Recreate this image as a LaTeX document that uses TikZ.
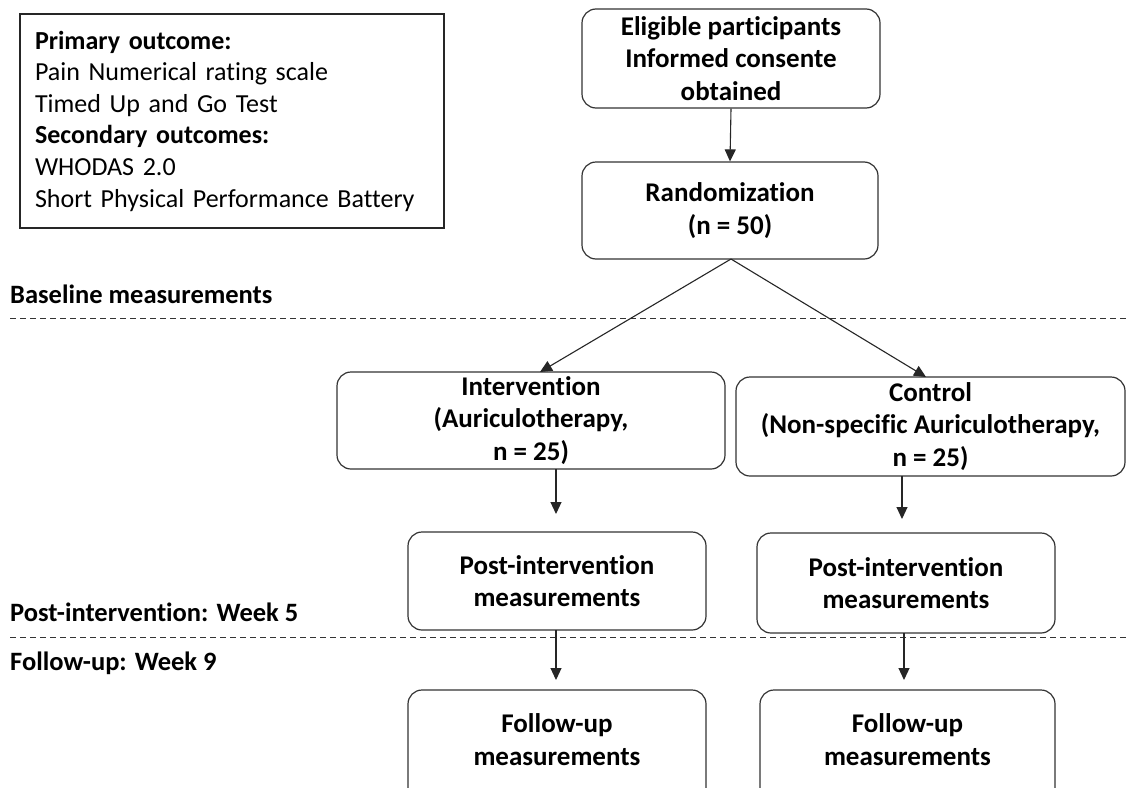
\documentclass[tikz,border=0pt]{standalone}
\usepackage{fontspec}
\setmainfont{Carlito}[Ligatures={NoCommon}]
\usetikzlibrary{arrows.meta}
\begin{document}
\begin{tikzpicture}[x=1pt,y=-1pt,
  every node/.style={font=\fontsize{26}{31.6}\selectfont, text=black},
  rbox/.style={draw=black!80, line width=1.2pt, rounded corners=14pt, align=center, font=\fontsize{27}{32.5}\selectfont\bfseries, inner sep=0pt},
  arr/.style={draw=black!85, line width=1.1pt, -{Triangle[width=11pt,length=12pt]}},
  phase/.style={anchor=west, font=\fontsize{26.5}{30}\selectfont\bfseries, inner sep=0pt},
  sep/.style={draw=black!80, line width=1pt, dash pattern=on 6pt off 4pt}]
\clip (0,0) rectangle (1126,787);
\fill[white] (0,0) rectangle (1126,787);

% outcome box
\node[draw=black!85, line width=1.2pt, minimum width=424pt, minimum height=214pt, text width=394pt, align=left, inner sep=15pt] (outc) at (232,121)
 {\textbf{Primary outcome:}\\ Pain Numerical rating scale\\ Timed Up and Go Test\\ \textbf{Secondary outcomes:}\\ WHODAS 2.0\\ Short Physical Performance Battery};

% main boxes
\node[rbox, minimum width=298pt, minimum height=99pt] (elig) at (731,58.5) {Eligible participants\\ Informed consente\\ obtained};
\node[rbox, minimum width=296pt, minimum height=97pt] (rand) at (730,210.5) {Randomization\\ (n = 50)};
\node[rbox, minimum width=388pt, minimum height=97pt] (intv) at (531,420.5) {Intervention\\ (Auriculotherapy,\\ n = 25)};
\node[rbox, minimum width=389pt, minimum height=99pt] (ctrl) at (930.5,426.5) {Control\\ (Non-specific Auriculotherapy,\\ n = 25)};
\node[rbox, minimum width=298pt, minimum height=98pt] (posti) at (557,581) {Post-intervention\\ measurements};
\node[rbox, minimum width=298pt, minimum height=100pt] (postc) at (906,583) {Post-intervention\\ measurements};
\node[rbox, minimum width=298pt, minimum height=134pt] (foli) at (557,757) {};
\node[rbox, minimum width=295pt, minimum height=134pt] (folc) at (907.5,757) {};
\node[font=\fontsize{27}{32.5}\selectfont\bfseries, align=center, inner sep=0pt] (folit) at (557,739.5) {Follow-up\\ measurements};
\node[font=\fontsize{27}{32.5}\selectfont\bfseries, align=center, inner sep=0pt] (folct) at (907.5,739.5) {Follow-up\\ measurements};

% phase labels and separators
\node[phase] (base) at (10,294) {Baseline measurements};
\node[phase] (wk5) at (10,612) {Post-intervention: Week 5};
\node[phase] (wk9) at (10,663) {Follow-up: Week 9};
\coordinate (s1a) at (10,318); \coordinate (s1b) at (1126,318);
\coordinate (s2a) at (10,637); \coordinate (s2b) at (1126,637);
\draw[sep] (s1a) -- (s1b);
\draw[sep] (s2a) -- (s2b);

% connectors
\draw[arr] (elig.south) -- (rand.north);
\coordinate (split) at (731,259);
\coordinate (it) at (540,372);
\coordinate (ct) at (926,377);
\draw[arr] (split) -- (it);
\draw[arr] (split) -- (ct);
\coordinate (a1s) at (556,469); \coordinate (a1e) at (556,514);
\coordinate (a2s) at (902,476); \coordinate (a2e) at (902,519);
\coordinate (a3s) at (556,630); \coordinate (a3e) at (556,680);
\coordinate (a4s) at (904,633); \coordinate (a4e) at (904,680);
\draw[arr] (a1s) -- (a1e);
\draw[arr] (a2s) -- (a2e);
\draw[arr] (a3s) -- (a3e);
\draw[arr] (a4s) -- (a4e);
\end{tikzpicture}
\end{document}
